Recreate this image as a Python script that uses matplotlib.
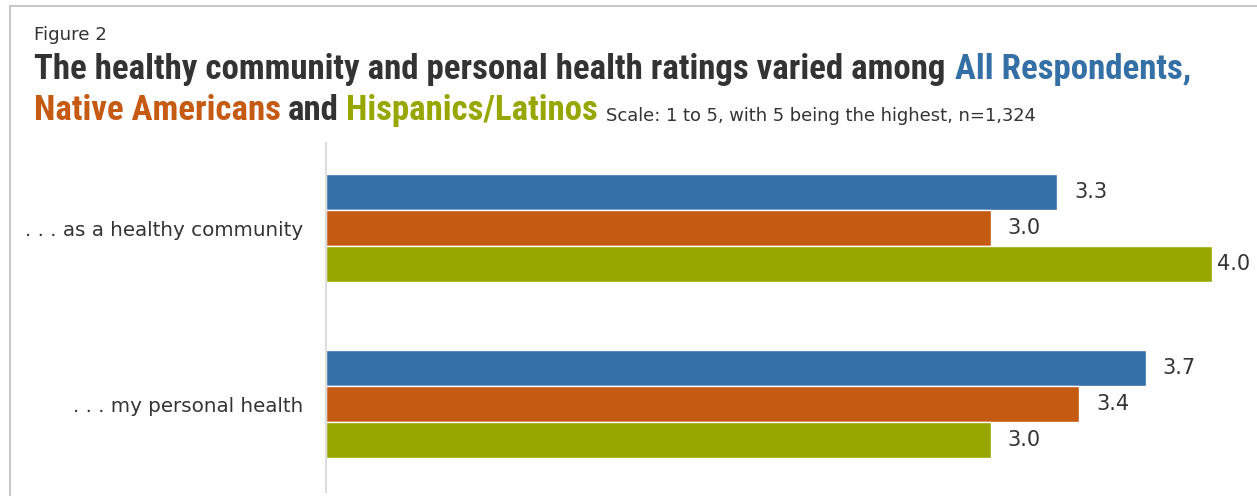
import matplotlib.pyplot as plt
from matplotlib.lines import Line2D
import numpy as np

# data
categories = [". . . as a healthy community", ". . . my personal health"]
groups = ["All Respondents", "Native Americans", "Hispanics/Latinos"]
all_respondents = [3.3, 3.7]
native_americans = [3.0, 3.4]
hispanics_latinos = [4.0, 3.0]
series = [all_respondents, native_americans, hispanics_latinos]

colors = ["#346fa6", "#c55a13", "#98a600"]
dark = "#333333"
W, H = 1257, 496

cond = ["Liberation Sans Narrow", "Roboto Condensed", "DejaVu Sans"]
plt.rcParams["font.family"] = ["DejaVu Sans"]

fig = plt.figure(figsize=(W / 100, H / 100), dpi=100)
renderer = fig.canvas.get_renderer()

# light frame on top and left
fig.add_artist(Line2D([10 / W, 10 / W], [0, 1 - 6 / H], color="#c8c8c8", lw=1.5))
fig.add_artist(Line2D([10 / W, 1], [1 - 6 / H, 1 - 6 / H], color="#c8c8c8", lw=1.5))


def fit(t, width_px):
    # scale the font so the text spans the same width as in the reference
    bb = t.get_window_extent(renderer)
    t.set_fontsize(t.get_fontsize() * width_px / bb.width)
    return t


def put(x, y, s, **kw):
    return fig.text(x / W, 1 - y / H, s, va="baseline", ha="left", **kw)


fit(put(34, 40.5, "Figure 2", color=dark, fontsize=13), 73)

# title, line 1
t1 = fit(put(34, 79, "The healthy community and personal health ratings varied among",
             color=dark, fontsize=26, fontweight="bold", family=cond), 914)
tsize = t1.get_fontsize()
gap = 7


def run(x, y, parts):
    for s, c in parts:
        t = put(x, y, s, color=c, fontsize=tsize, fontweight="bold", family=cond)
        x += t.get_window_extent(renderer).width + gap
    return x


run(34 + 914 + gap, 79, [("All Respondents,", colors[0])])
x_end = run(34, 120, [("Native Americans", colors[1]), ("and", dark),
                      ("Hispanics/Latinos", colors[2])])
fit(put(x_end + 2, 121, "Scale: 1 to 5, with 5 being the highest, n=1,324",
        color=dark, fontsize=12), 429)

# bars
ax = fig.add_axes([326 / W, 4 / H, (W - 326) / W, (492 - 143) / H])
ypos = np.arange(len(categories))
step = 0.2045
for i, vals in enumerate(series):
    ax.barh(ypos + (i - 1) * step, vals, height=0.2, color=colors[i],
            edgecolor="white", linewidth=1.0, label=groups[i])
    for y, v in zip(ypos + (i - 1) * step, vals):
        ax.text(min(v + 0.077, 4.023), y, f"{v:.1f}", va="center", ha="left",
                fontsize=15, color=dark, clip_on=False)

ax.set_xlim(0, (W - 326) / 221.5)
ax.set_ylim(1.5, -0.483)
ax.set_xticks([])
ax.set_yticks(ypos)
ax.set_yticklabels(categories, fontsize=14.3, color=dark)
ax.tick_params(axis="y", length=0, pad=16.5)
for side in ["top", "right", "bottom"]:
    ax.spines[side].set_visible(False)
ax.spines["left"].set_color("#dddddd")
ax.spines["left"].set_linewidth(1.5)
ax.spines["left"].set_zorder(3)

plt.savefig("out.png", dpi=100)
